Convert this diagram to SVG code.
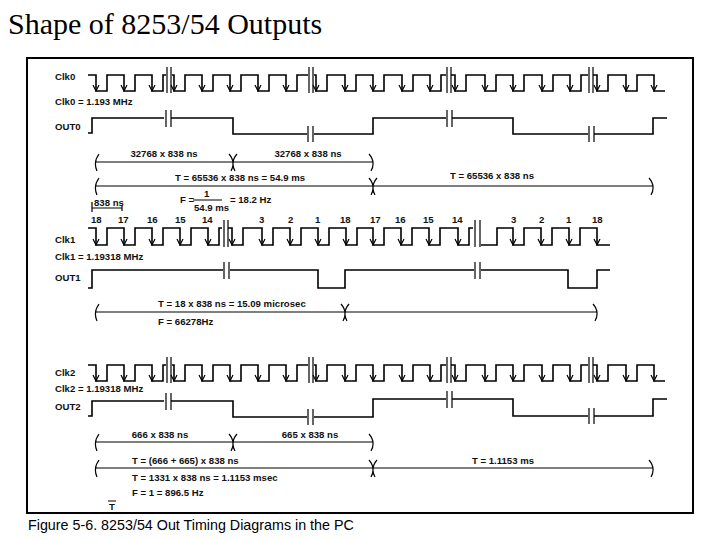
<svg xmlns="http://www.w3.org/2000/svg" xmlns:xlink="http://www.w3.org/1999/xlink" width="720" height="540" viewBox="0 0 720 540">
<style>
.w{fill:none;stroke:#000;stroke-width:1.6}
.d{fill:none;stroke:#000;stroke-width:1.2}
.t{font-family:"Liberation Sans",Arial,sans-serif;font-size:9.6px;font-weight:bold;fill:#111}
</style>
<defs>
<g id="clkA">
<path class="w" d="M88,75 H96 V91 H107 V75 H124 V91 H135 V75 H152 V91 H163 V75 H166 M172,75 H174 V91 H185 V75 H202 V91 H213 V75 H230 V91 H241 V75 H258 V91 H269 V75 H286 V91 H297 V75 H308 M314,75 H316 V91 H327 V75 H345 V91 H356 V75 H373 V91 H384 V75 H402 V91 H413 V75 H430 V91 H441 V75 H446 M451,75 H455 V91 H466 V75 H485 V91 H496 V75 H513 V91 H524 V75 H542 V91 H553 V75 H570 V91 H581 V75 H588 M593,75 H597 V91 H608 V75 H626 V91 H637 V75 H654 V91 H665"/>
<path class="d" d="M93,85 L96,91 L99,85 M121,85 L124,91 L127,85 M149,85 L152,91 L155,85 M171,85 L174,91 L177,85 M199,85 L202,91 L205,85 M227,85 L230,91 L233,85 M255,85 L258,91 L261,85 M283,85 L286,91 L289,85 M313,85 L316,91 L319,85 M342,85 L345,91 L348,85 M370,85 L373,91 L376,85 M399,85 L402,91 L405,85 M427,85 L430,91 L433,85 M452,85 L455,91 L458,85 M482,85 L485,91 L488,85 M510,85 L513,91 L516,85 M539,85 L542,91 L545,85 M567,85 L570,91 L573,85 M594,85 L597,91 L600,85 M623,85 L626,91 L629,85 M651,85 L654,91 L657,85"/>
<path class="d" d="M167,67 V93 M171,67 V93 M309,67 V93 M313,67 V93 M447,67 V93 M451,67 V93 M589,67 V93 M593,67 V93"/>
</g>
</defs>
<text x="8" y="34" style="font-family:'Liberation Serif','Times New Roman',serif;font-size:30px">Shape of 8253/54 Outputs</text>
<rect x="27" y="58" width="666" height="455" fill="none" stroke="#000" stroke-width="2"/>

<g id="clk0"><use xlink:href="#clkA"/><text class="t" x="55" y="80">Clk0</text><text class="t" x="55" y="105">Clk0 = 1.193 MHz</text></g>
<g id="out0"><text class="t" x="55" y="130">OUT0</text>
<path class="w" d="M88,133 H92 V118 H164 M171,118 H233 V134 H307 M314,134 H373 V118 H446 M452,118 H513 V134 H588 M594,134 H653 V118 H667"/>
<path class="d" d="M166,110 V127 M171,110 V127 M308,126 V142 M313,126 V142 M447,110 V127 M452,110 V127 M589,126 V142 M594,126 V142"/></g>

<g id="numbers" class="t">
<text x="91" y="223">18</text><text x="118" y="223">17</text><text x="147" y="223">16</text><text x="175" y="223">15</text><text x="202" y="223">14</text>
<text x="259" y="223">3</text><text x="288" y="223">2</text><text x="315" y="223">1</text><text x="340" y="223">18</text>
<text x="370" y="223">17</text><text x="395" y="223">16</text><text x="423" y="223">15</text><text x="452" y="223">14</text>
<text x="511" y="223">3</text><text x="539" y="223">2</text><text x="566" y="223">1</text><text x="592" y="223">18</text>
</g>
<g id="clk1"><text class="t" x="55" y="243">Clk1</text><text class="t" x="55" y="260">Clk1 = 1.19318 MHz</text>
<path class="w" d="M88,228 H96 V245 H107 V228 H124 V245 H135 V228 H152 V245 H163 V228 H180 V245 H191 V228 H208 V245 H219 V228 H222 M228,228 H232 V245 H243 V228 H262 V245 H273 V228 H290 V245 H301 V228 H318 V245 H329 V228 H346 V245 H357 V228 H373 V245 H384 V228 H401 V245 H412 V228 H429 V245 H440 V228 H458 V245 H469 V228 H473 M481,245 H497 V228 H513 V245 H524 V228 H541 V245 H552 V228 H569 V245 H580 V228 H597 V245 H610"/>
<path class="d" d="M93,239 L96,245 L99,239 M121,239 L124,245 L127,239 M149,239 L152,245 L155,239 M177,239 L180,245 L183,239 M205,239 L208,245 L211,239 M229,239 L232,245 L235,239 M259,239 L262,245 L265,239 M287,239 L290,245 L293,239 M315,239 L318,245 L321,239 M343,239 L346,245 L349,239 M370,239 L373,245 L376,239 M398,239 L401,245 L404,239 M426,239 L429,245 L432,239 M455,239 L458,245 L461,239 M510,239 L513,245 L516,239 M538,239 L541,245 L544,239 M566,239 L569,245 L572,239 M594,239 L597,245 L600,239"/>
<path class="d" d="M224,220 V247 M228,220 V247 M475,220 V247 M480,220 V247"/></g>
<g id="out1"><text class="t" x="55" y="281">OUT1</text>
<path class="w" d="M88,288 H92 V270 H223 M230,270 H318 V288 H345 V270 H474 M481,270 H568 V288 H597 V270 H610"/>
<path class="d" d="M224,262 V279 M229,262 V279 M475,262 V279 M480,262 V279"/></g>

<g id="clk2"><use xlink:href="#clkA" transform="translate(0,290)"/><text class="t" x="55" y="376">Clk2</text><text class="t" x="55" y="392">Clk2 = 1.19318 MHz</text></g>
<g id="out2"><text class="t" x="55" y="410">OUT2</text>
<path class="w" d="M88,416 H92 V401 H164 M171,401 H233 V417 H307 M314,417 H373 V399 H446 M452,399 H513 V416 H588 M594,416 H653 V399 H667"/>
<path class="d" d="M166,393 V410 M171,393 V410 M308,409 V425 M313,409 V425 M447,391 V408 M452,391 V408 M589,408 V424 M594,408 V424"/></g>

<g id="connectors" class="d">
<path d="M95,162 H233 M233,162 H373 M95,186 H373 M373,186 H653 M95,312 H345 M345,312 H597 M95,442 H233 M233,442 H373 M95,468 H373 M373,468 H653"/>
<path d="M99,154 Q93,162 97,171 M229,154 Q236,162 231,171 M237,154 Q230,162 235,171 M369,154 Q376,162 371,171 M99,178 Q93,186 97,195 M369,178 Q376,186 371,195 M377,178 Q370,186 375,195 M649,178 Q656,186 651,195 M99,304 Q93,312 97,321 M341,304 Q348,312 343,321 M349,304 Q342,312 347,321 M593,304 Q600,312 595,321 M99,434 Q93,442 97,451 M229,434 Q236,442 231,451 M237,434 Q230,442 235,451 M369,434 Q376,442 371,451 M99,460 Q93,468 97,477 M369,460 Q376,468 371,477 M377,460 Q370,468 375,477 M649,460 Q656,468 651,477"/>
<path d="M92,202 V212 M92,208 H122 M122,205 V211 M193,200 H222 M108,501 H116"/>
</g>
<g id="labels" class="t">
<text x="164" y="157" text-anchor="middle">32768 x 838 ns</text>
<text x="308" y="157" text-anchor="middle">32768 x 838 ns</text>
<text x="240" y="181" text-anchor="middle">T = 65536 x 838 ns = 54.9 ms</text>
<text x="492" y="179" text-anchor="middle">T = 65536 x 838 ns</text>
<text x="180" y="203">F =</text><text x="204" y="197">1</text><text x="194" y="211">54.9 ms</text><text x="230" y="203">= 18.2 Hz</text>
<text x="94" y="206">838 ns</text>
<text x="158" y="307">T = 18 x 838 ns = 15.09 microsec</text>
<text x="158" y="325">F = 66278Hz</text>
<text x="160" y="438" text-anchor="middle">666 x 838 ns</text>
<text x="310" y="438" text-anchor="middle">665 x 838 ns</text>
<text x="132" y="464">T = (666 + 665) x 838 ns</text>
<text x="503" y="464" text-anchor="middle">T = 1.1153 ms</text>
<text x="132" y="481">T = 1331 x 838 ns = 1.1153 msec</text>
<text x="132" y="496">F = 1 = 896.5 Hz</text>
<text x="109" y="510">T</text>
</g>
<text x="28" y="530" style="font-family:'Liberation Sans',Arial,sans-serif;font-size:14.3px">Figure 5-6. 8253/54 Out Timing Diagrams in the PC</text>
</svg>
